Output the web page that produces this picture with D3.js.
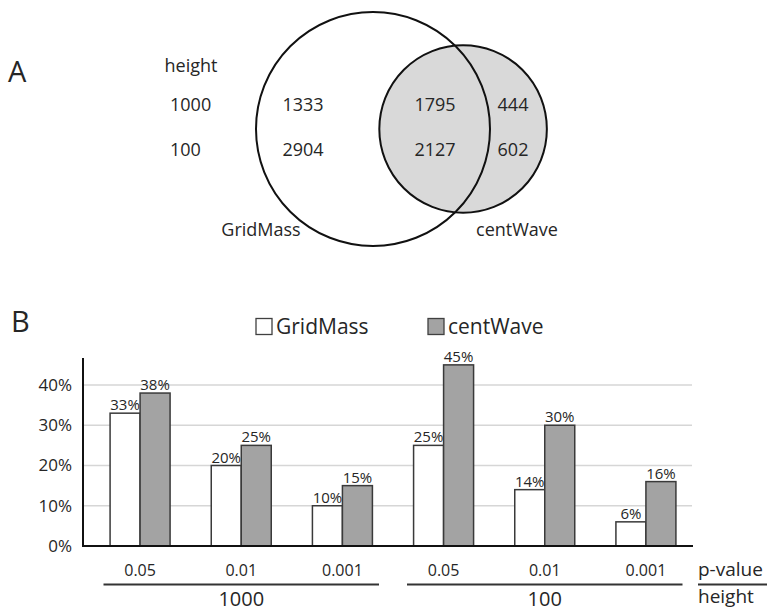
<!DOCTYPE html>
<html>
<head>
<meta charset="utf-8">
<script src="https://cdn.jsdelivr.net/npm/d3@7"></script>
<style>
  html, body { margin: 0; padding: 0; background: #fff; }
  svg { display: block; }
  text { font-family: "Open Sans", "Noto Sans", sans-serif; fill: #262626; }
</style>
</head>
<body>
<svg id="chart" width="767" height="612"></svg>
<script>
// ---- Panel A: Venn counts per peak height ----
const vennHeights = ["1000", "100"];
const gridMassOnly = [1333, 2904];
const sharedPeaks = [1795, 2127];
const centWaveOnly = [444, 602];

// ---- Panel B: grouped bars ----
const heightGroups = ["1000", "100"];
const pValues = ["0.05", "0.01", "0.001"];
const seriesNames = ["GridMass", "centWave"];
const gridMassPct = [33, 20, 10, 25, 14, 6];
const centWavePct = [38, 25, 15, 45, 30, 16];
const yTicks = [0, 10, 20, 30, 40];

const seriesFill = { GridMass: "#ffffff", centWave: "#a3a3a3" };

const svg = d3.select("#chart");

// ================= Panel A =================
const gA = svg.append("g");
gA.append("text").attr("x", 8).attr("y", 82).attr("font-size", 29).text("A");

// circles: centre/radius in a shared coordinate frame
const vx = d3.scaleLinear().domain([0, 100]).range([256, 490]);
const vy = d3.scaleLinear().domain([0, 100]).range([12, 246]);
const circGrid = { cx: 50, cy: 50, r: 50 };
const circCent = { cx: 88.5, cy: 50, r: 35.8 };
const px = v => vx(v) - vx(0);

gA.append("circle")
  .attr("cx", vx(circCent.cx)).attr("cy", vy(circCent.cy)).attr("r", px(circCent.r))
  .attr("fill", "#d9d9d9").attr("stroke", "none");
gA.append("circle")
  .attr("cx", vx(circGrid.cx)).attr("cy", vy(circGrid.cy)).attr("r", px(circGrid.r))
  .attr("fill", "none").attr("stroke", "#111").attr("stroke-width", 2);
gA.append("circle")
  .attr("cx", vx(circCent.cx)).attr("cy", vy(circCent.cy)).attr("r", px(circCent.r))
  .attr("fill", "none").attr("stroke", "#111").attr("stroke-width", 2);

const rowY = d3.scalePoint().domain(vennHeights).range([111, 156]);
gA.append("text").attr("x", 191).attr("y", 72).attr("text-anchor", "middle")
  .attr("font-size", 18).text("height");
vennHeights.forEach((h, i) => {
  const y = rowY(h);
  gA.append("text").attr("x", 170).attr("y", y).attr("font-size", 18).text(h);
  gA.append("text").attr("x", 303).attr("y", y).attr("text-anchor", "middle")
    .attr("font-size", 18).text(gridMassOnly[i]);
  gA.append("text").attr("x", 435).attr("y", y).attr("text-anchor", "middle")
    .attr("font-size", 18).text(sharedPeaks[i]);
  gA.append("text").attr("x", 513).attr("y", y).attr("text-anchor", "middle")
    .attr("font-size", 18).text(centWaveOnly[i]);
});
gA.append("text").attr("x", 261).attr("y", 236).attr("text-anchor", "middle")
  .attr("font-size", 18).text("GridMass");
gA.append("text").attr("x", 517).attr("y", 236).attr("text-anchor", "middle")
  .attr("font-size", 18).text("centWave");

// ================= Panel B =================
const gB = svg.append("g");
gB.append("text").attr("x", 11).attr("y", 332).attr("font-size", 29).text("B");

// legend
const legendX = { GridMass: 256, centWave: 428 };
seriesNames.forEach(s => {
  gB.append("rect").attr("x", legendX[s]).attr("y", 318.5).attr("width", 16).attr("height", 16)
    .attr("fill", seriesFill[s]).attr("stroke", "#404040").attr("stroke-width", 1.3);
  gB.append("text").attr("x", legendX[s] + 20).attr("y", 334).attr("font-size", 21).text(s);
});

const groups = [];
heightGroups.forEach(h => pValues.forEach(p => groups.push(h + "|" + p)));
const rows = groups.map((g, i) => ({
  key: g, height: g.split("|")[0], p: g.split("|")[1],
  GridMass: gridMassPct[i], centWave: centWavePct[i]
}));

const y = d3.scaleLinear().domain([0, 40]).range([546, 385]);
const x0 = d3.scaleBand().domain(groups).range([89.5, 696.5]);
const x1 = d3.scaleBand().domain(seriesNames).range([-30, 30]);
const xh = d3.scaleBand().domain(heightGroups).range([89.5, 696.5]);
const axisLeft = 83, axisRight = 693;

// gridlines
gB.append("g").selectAll("line").data(yTicks.filter(t => t > 0)).join("line")
  .attr("x1", axisLeft).attr("x2", axisRight - 1)
  .attr("y1", d => y(d)).attr("y2", d => y(d))
  .attr("stroke", "#d6d6d6").attr("stroke-width", 1.6);

// y axis ticks via d3.axisLeft, styled to plain labels
const yAxis = gB.append("g").attr("transform", `translate(${axisLeft},0)`)
  .call(d3.axisLeft(y).tickValues(yTicks).tickFormat(d => d + "%").tickSize(0).tickPadding(11));
yAxis.select(".domain").remove();
yAxis.selectAll("text").attr("font-size", 17)
  .style("font-family", '"Open Sans", sans-serif').attr("fill", "#262626");

// bars
const bars = gB.append("g");
rows.forEach(r => {
  const cx = x0(r.key) + x0.bandwidth() / 2;
  seriesNames.forEach(s => {
    const bx = cx + x1(s);
    bars.append("rect")
      .attr("x", bx).attr("y", y(r[s]))
      .attr("width", x1.bandwidth()).attr("height", y(0) - y(r[s]))
      .attr("fill", seriesFill[s]).attr("stroke", "#3a3a3a").attr("stroke-width", 1.5);
    bars.append("text")
      .attr("x", bx + x1.bandwidth() / 2).attr("y", y(r[s]) - 3)
      .attr("text-anchor", "middle").attr("font-size", 15)
      .text(r[s] + "%");
  });
  gB.append("text").attr("x", cx).attr("y", 576).attr("text-anchor", "middle")
    .attr("font-size", 16).text(r.p);
});

// axis lines
gB.append("line").attr("x1", axisLeft).attr("x2", axisLeft).attr("y1", 358).attr("y2", y(0) + 1)
  .attr("stroke", "#111").attr("stroke-width", 2);
gB.append("line").attr("x1", axisLeft).attr("x2", axisRight).attr("y1", y(0)).attr("y2", y(0))
  .attr("stroke", "#111").attr("stroke-width", 2);

// height group brackets
heightGroups.forEach(h => {
  const a = xh(h) + 14, b = xh(h) + xh.bandwidth() - 14;
  gB.append("line").attr("x1", a).attr("x2", b).attr("y1", 584.5).attr("y2", 584.5)
    .attr("stroke", "#333").attr("stroke-width", 2.2);
  gB.append("text").attr("x", (a + b) / 2).attr("y", 606).attr("text-anchor", "middle")
    .attr("font-size", 20).text(h);
});

// row captions at the right
gB.append("text").attr("x", 698).attr("y", 576).attr("font-size", 19).text("p-value");
gB.append("line").attr("x1", 698).attr("x2", 767).attr("y1", 584.5).attr("y2", 584.5)
  .attr("stroke", "#333").attr("stroke-width", 2.2);
gB.append("text").attr("x", 698).attr("y", 603).attr("font-size", 19).text("height");
</script>
</body>
</html>
